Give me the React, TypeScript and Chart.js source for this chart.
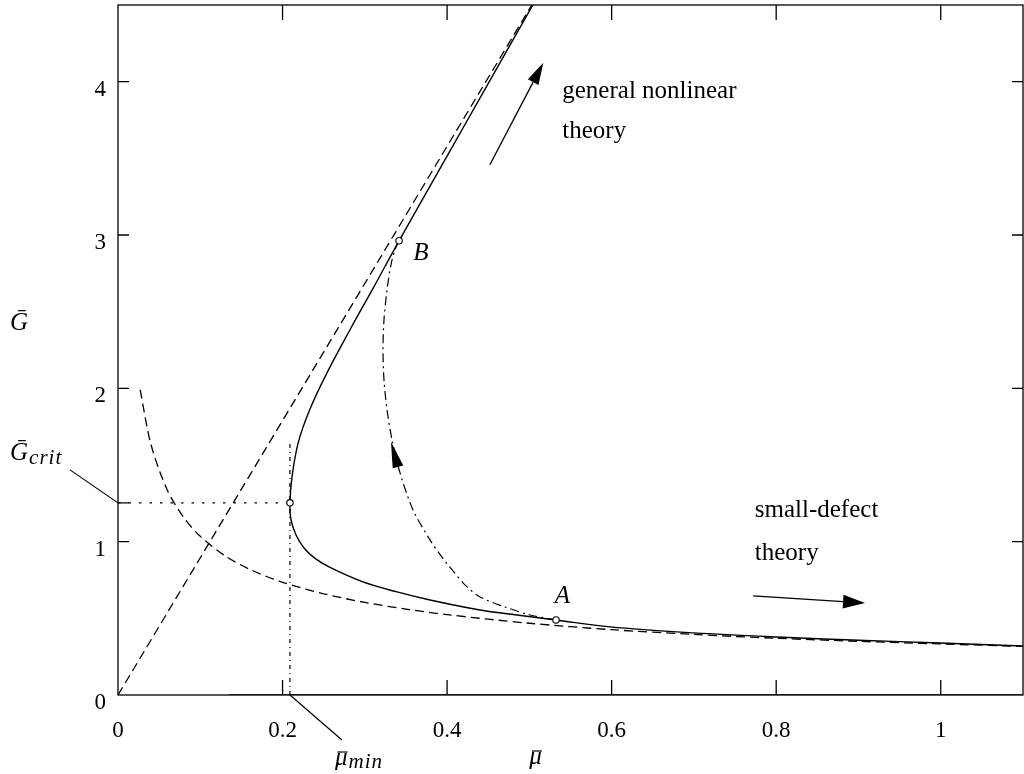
import React, { useEffect, useRef } from "react";
import { Chart, registerables } from "chart.js";

Chart.register(...registerables);

// ---- tick values and labels ----
const xTicks = [0, 0.2, 0.4, 0.6, 0.8, 1];
const xTickLabels = ["0", "0.2", "0.4", "0.6", "0.8", "1"];
const yTicks = [0, 1, 2, 3, 4];
const yTickLabels = ["0", "1", "2", "3", "4"];

// ---- solid curve (general nonlinear solution), traced top -> turning point -> right ----
const solidMu = [0.5044, 0.4513, 0.3984, 0.3416, 0.311, 0.282, 0.254, 0.233, 0.219, 0.2115, 0.209, 0.2103, 0.2164, 0.2261, 0.2395, 0.2577, 0.2978, 0.3391, 0.3792, 0.44, 0.485, 0.532, 0.598, 0.7, 0.801, 0.9, 0.999, 1.1];
const solidG = [4.502, 4.0, 3.5, 2.962, 2.662, 2.382, 2.101, 1.86, 1.644, 1.423, 1.253, 1.142, 1.044, 0.959, 0.891, 0.832, 0.7374, 0.6721, 0.6199, 0.5546, 0.522, 0.489, 0.444, 0.405, 0.378, 0.357, 0.339, 0.32];

// ---- dashed small-defect curve ----
const smallMu = [0.027, 0.04, 0.06, 0.08, 0.1, 0.13, 0.16, 0.2, 0.25, 0.3, 0.35, 0.4, 0.5, 0.6, 0.7, 0.8, 0.9, 1.0, 1.1];
const smallG = [1.99, 1.635, 1.335, 1.157, 1.035, 0.908, 0.82, 0.735, 0.66, 0.604, 0.56, 0.524, 0.468, 0.426, 0.395, 0.37, 0.35, 0.333, 0.317];

// ---- dashed straight asymptote ----
const rayMu = [0, 0.503];
const rayG = [0, 4.5];

// ---- dash-dot path A -> B ----
const pathMu = [0.5324, 0.5008, 0.4704, 0.44, 0.423, 0.4072, 0.3926, 0.3792, 0.3586, 0.3428, 0.3331, 0.327, 0.3233, 0.3221, 0.3233, 0.327, 0.3318, 0.3367, 0.3416];
const pathG = [0.4894, 0.522, 0.5742, 0.6395, 0.7113, 0.8091, 0.907, 1.0114, 1.2072, 1.4486, 1.6639, 1.8597, 2.0555, 2.2512, 2.447, 2.6427, 2.8059, 2.9038, 2.9625];

// ---- G = 0 line ----
const zeroMu = [0.135, 1.1];
const zeroG = [0, 0];

// ---- special points ----
const muMin = 0.209;
const gCrit = 1.253;
const markerMu = [0.5324, 0.3416, muMin];
const markerG = [0.4894, 2.9625, gCrit];
const vDottedTop = 1.64;

const pts = (xs: number[], ys: number[]) => xs.map((x, i) => ({ x, y: ys[i] }));

const SERIF = "'Liberation Serif', 'Times New Roman', serif";

function arrowHead(ctx: CanvasRenderingContext2D, tx: number, ty: number, fx: number, fy: number, len: number, hw: number) {
  const dx = tx - fx, dy = ty - fy;
  const d = Math.hypot(dx, dy) || 1;
  const ux = dx / d, uy = dy / d;
  const bx = tx - ux * len, by = ty - uy * len;
  ctx.beginPath();
  ctx.moveTo(tx, ty);
  ctx.lineTo(bx - uy * hw, by + ux * hw);
  ctx.lineTo(bx + uy * hw, by - ux * hw);
  ctx.closePath();
  ctx.fill();
  return { bx, by };
}

function barText(ctx: CanvasRenderingContext2D, s: string, x: number, y: number, barY: number) {
  ctx.fillText(s, x, y);
  const w = ctx.measureText(s).width;
  ctx.save();
  ctx.lineWidth = 1.2;
  ctx.beginPath();
  ctx.moveTo(x + w * 0.2, barY);
  ctx.lineTo(x + w * 1.0, barY);
  ctx.stroke();
  ctx.restore();
  return w;
}

const decor = {
  id: "decor",
  afterDatasetsDraw(chart: any) {
    const { ctx, chartArea: a, scales } = chart;
    const X = (v: number) => scales.x.getPixelForValue(v);
    const Y = (v: number) => scales.y.getPixelForValue(v);
    ctx.save();
    ctx.strokeStyle = "#000";
    ctx.fillStyle = "#000";
    ctx.setLineDash([]);

    // frame
    ctx.lineWidth = 1.3;
    ctx.strokeRect(a.left, a.top, a.right - a.left, a.bottom - a.top);

    // inward ticks
    ctx.beginPath();
    xTicks.forEach((v) => {
      if (v === 0) return;
      const px = X(v);
      ctx.moveTo(px, a.bottom);
      ctx.lineTo(px, a.bottom - 15);
      ctx.moveTo(px, a.top);
      ctx.lineTo(px, a.top + 15);
    });
    yTicks.forEach((v) => {
      if (v === 0) return;
      const py = Y(v);
      ctx.moveTo(a.left, py);
      ctx.lineTo(a.left + 11, py);
      ctx.moveTo(a.right, py);
      ctx.lineTo(a.right - 11, py);
    });
    ctx.moveTo(a.left, Y(gCrit));
    ctx.lineTo(a.left + 11, Y(gCrit));
    ctx.stroke();

    // tick labels
    ctx.font = `23px ${SERIF}`;
    ctx.textBaseline = "alphabetic";
    ctx.textAlign = "center";
    xTicks.forEach((v, i) => ctx.fillText(xTickLabels[i], X(v), a.bottom + 42));
    ctx.textAlign = "right";
    yTicks.forEach((v, i) => ctx.fillText(yTickLabels[i], a.left - 12, Y(v) + 14));

    // leader lines
    ctx.lineWidth = 1.2;
    ctx.beginPath();
    ctx.moveTo(a.left - 48, Y(gCrit) - 33);
    ctx.lineTo(a.left, Y(gCrit));
    ctx.moveTo(X(muMin), a.bottom);
    ctx.lineTo(X(muMin) + 52, a.bottom + 45);
    ctx.stroke();

    // axis titles and math labels
    ctx.textAlign = "left";
    ctx.font = `italic 25px ${SERIF}`;
    ctx.fillText("\u1E20", a.left - 108, Y(2.38));
    ctx.fillText("\u1E20", a.left - 108, Y(gCrit) - 43);
    const gw = ctx.measureText("\u1E20").width;
    ctx.font = `italic 21px ${SERIF}`;
    (ctx as any).letterSpacing = "1px";
    ctx.fillText("crit", a.left - 108 + gw + 1, Y(gCrit) - 39);
    (ctx as any).letterSpacing = "0px";

    ctx.font = `italic 25px ${SERIF}`;
    barText(ctx, "\u03BC", X(0.5), a.bottom + 69, a.bottom + 56);
    const mw = barText(ctx, "\u03BC", X(muMin) + 45, a.bottom + 70, a.bottom + 57);
    ctx.font = `italic 21px ${SERIF}`;
    (ctx as any).letterSpacing = "1px";
    ctx.fillText("min", X(muMin) + 45 + mw + 1, a.bottom + 73);
    (ctx as any).letterSpacing = "0px";

    ctx.font = `italic 25px ${SERIF}`;
    ctx.fillText("A", X(0.531), Y(0.6));
    ctx.fillText("B", X(0.359), Y(2.838));

    // annotation texts
    ctx.font = `25px ${SERIF}`;
    ctx.fillText("general nonlinear", X(0.54), Y(3.896));
    ctx.fillText("theory", X(0.54), Y(3.635));
    ctx.fillText("small-defect", X(0.774), Y(1.161));
    ctx.fillText("theory", X(0.774), Y(0.881));

    // arrows
    ctx.lineWidth = 1.3;
    let t = { x1: X(0.452), y1: Y(3.458), x2: X(0.517), y2: Y(4.124) };
    let b = arrowHead(ctx, t.x2, t.y2, t.x1, t.y1, 22, 6);
    ctx.beginPath();
    ctx.moveTo(t.x1, t.y1);
    ctx.lineTo(b.bx, b.by);
    ctx.stroke();

    t = { x1: X(0.772), y1: Y(0.646), x2: X(0.908), y2: Y(0.6) };
    b = arrowHead(ctx, t.x2, t.y2, t.x1, t.y1, 22, 7);
    ctx.beginPath();
    ctx.moveTo(t.x1, t.y1);
    ctx.lineTo(b.bx, b.by);
    ctx.stroke();

    // arrow on dash-dot path
    arrowHead(ctx, X(0.3318), Y(1.651), X(0.3403), Y(1.488), 26, 5.5);

    ctx.restore();
  },
};

export default function App() {
  const ref = useRef<HTMLCanvasElement | null>(null);
  useEffect(() => {
    if (!ref.current) return;
    const line = (data: any, dash: number[], width = 1.3, tension = 0.3) => ({
      data,
      showLine: true,
      borderColor: "#000",
      borderWidth: width,
      borderDash: dash,
      pointRadius: 0,
      tension,
      fill: false,
      order: 1,
    });
    const chart = new Chart(ref.current, {
      type: "scatter",
      data: {
        datasets: [
          {
            data: pts(markerMu, markerG),
            showLine: false,
            pointRadius: 3.2,
            pointBackgroundColor: "#fff",
            pointBorderColor: "#000",
            pointBorderWidth: 1.1,
            order: 0,
          } as any,
          line(pts(solidMu, solidG), [], 1.4, 0.35),
          line(pts(smallMu, smallG), [9, 5], 1.3, 0.3),
          line(pts(rayMu, rayG), [9, 5], 1.3, 0),
          line(pts(pathMu, pathG), [9, 4, 2, 4], 1.2, 0.3),
          line(pts([0, muMin], [gCrit, gCrit]), [2.5, 8], 1.3, 0),
          line(pts([muMin, muMin], [0, vDottedTop]), [4, 4, 1, 4], 1.2, 0),
          line(pts(zeroMu, zeroG), [], 1.5, 0),
        ],
      },
      options: {
        animation: false,
        responsive: false,
        maintainAspectRatio: false,
        layout: { autoPadding: false, padding: { left: 118, right: 1, top: 5, bottom: 79 } },
        plugins: { legend: { display: false }, tooltip: { enabled: false } },
        scales: {
          x: { type: "linear", min: 0, max: 1.1, display: false },
          y: { type: "linear", min: 0, max: 4.5, display: false },
        },
      },
      plugins: [decor],
    });
    return () => chart.destroy();
  }, []);
  return (
    <div style={{ position: "absolute", left: 0, top: 0, width: 1024, height: 774, background: "#fff" }}>
      <canvas ref={ref} width={1024} height={774} style={{ display: "block", width: 1024, height: 774 }} />
    </div>
  );
}
